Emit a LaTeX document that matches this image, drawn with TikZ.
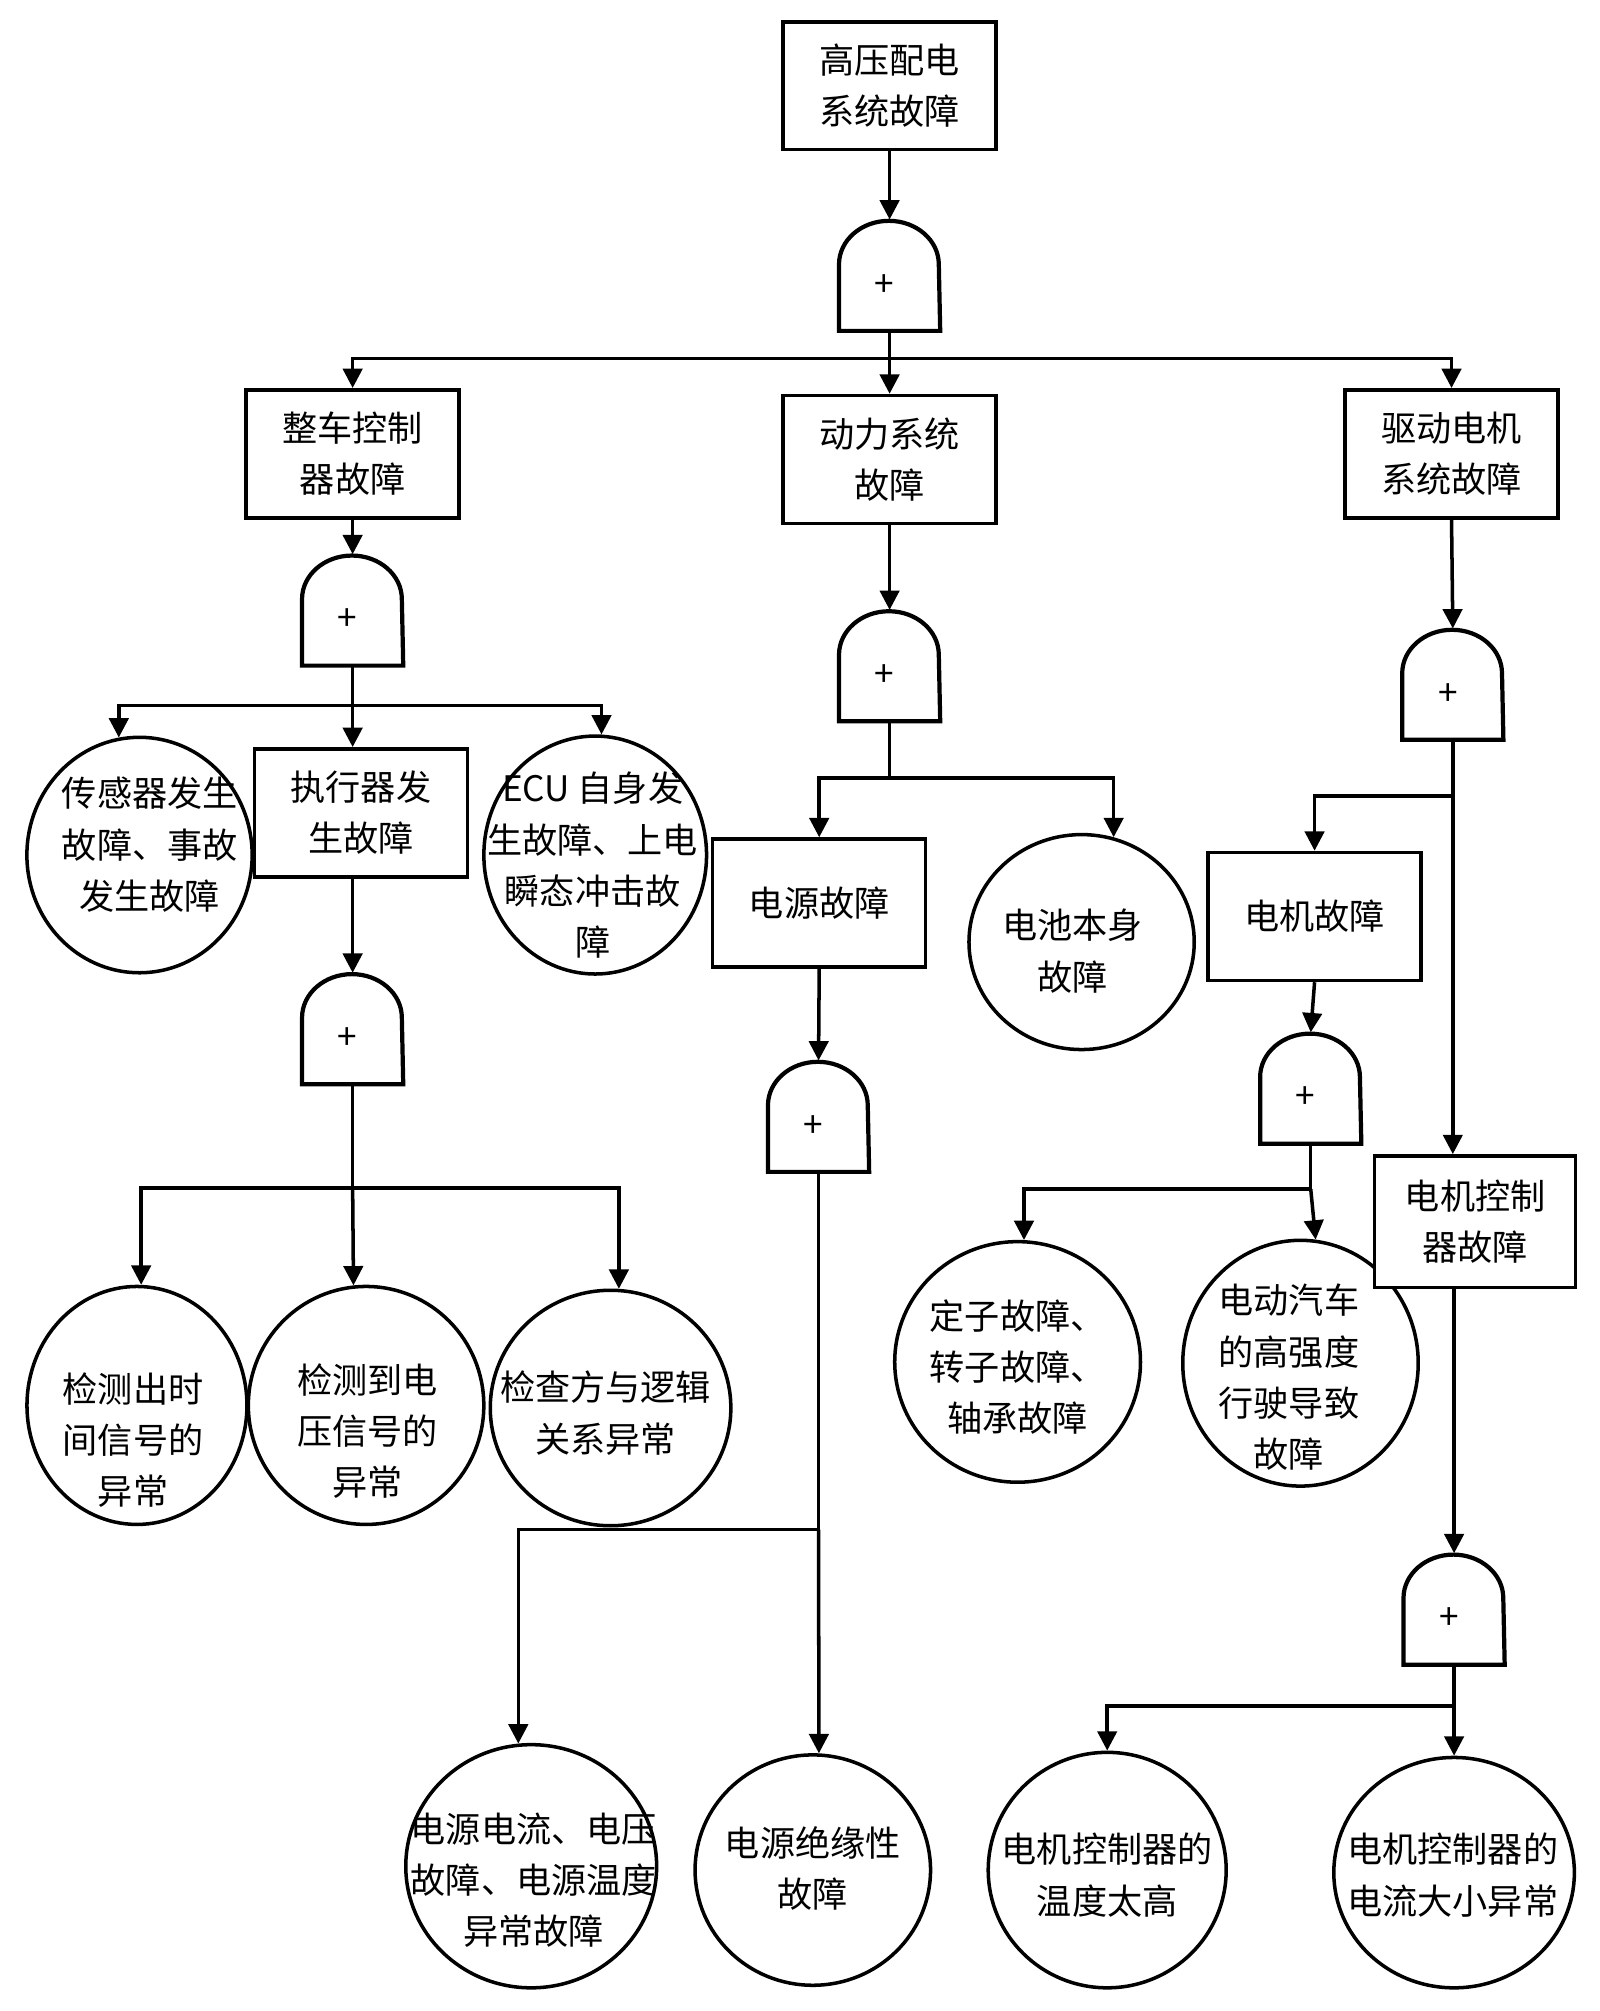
\documentclass[tikz,border=0pt]{standalone}
\usepackage{fontspec}
\setmainfont{Noto Sans CJK SC}
\usetikzlibrary{shapes.geometric,arrows.meta}

\newcommand{\orgate}[2]{%
\node[gatenode] (#1) at (#2) {};
\node[inner sep=0pt] (#1-p) at ([xshift=-0.05cm,yshift=-0.1cm]#1.center) {+};
\draw[gateline] (#1.south west) -- ++(0,-52) arc[start angle=180,end angle=0,x radius=0.499cm,y radius=0.435cm] -- (#1.south east) -- cycle;
}

\begin{document}
\begin{tikzpicture}[x=0.0128cm,y=-0.0128cm,
  font=\fontsize{10pt}{14.6pt}\selectfont,
  fault/.style={draw,line width=1pt,fill=white,minimum width=2.13cm,minimum height=1.28cm,inner sep=1pt,align=center},
  basic/.style={ellipse,draw,line width=1pt,fill=white,inner sep=0pt},
  txt/.style={align=center,inner sep=0pt},
  gatenode/.style={minimum width=0.998cm,minimum height=1.1cm,inner sep=0pt},
  gateline/.style={line width=1.2pt},
  link/.style={line width=1pt,-{Triangle[length=5.5pt,width=5.5pt]}},
  bar/.style={line width=1pt}]
\useasboundingbox (0,0) rectangle (1250,1571.1);

% top level
\node[fault] (top) at (695,67) {高压配电\\系统故障};
\orgate{g1}{695,215}
\node[fault] (vcu) at (275.5,354.5) {整车控制\\器故障};
\node[fault] (pwr) at (695,359) {动力系统\\故障};
\node[fault] (drv) at (1134,354.5) {驱动电机\\系统故障};
\coordinate (j1) at (695,280);
\draw[link] (top.south) -- (g1.north);
\draw[link] (g1.south) -- (pwr.north);
\draw[link] (j1) -| (vcu.north);
\draw[link] (j1) -| (drv.north);

% vehicle controller
\orgate{g2}{275.5,476.5}
\node[basic,minimum width=2.253cm,minimum height=2.355cm] (sen) at (109,668) {};
\node[txt] (sen-t) at (117,660) {传感器发生\\故障、事故\\发生故障};
\node[fault] (act) at (282,635) {执行器发\\生故障};
\node[basic,minimum width=2.227cm,minimum height=2.38cm] (ecu) at (465,668) {};
\node[txt] (ecu-t) at (463,676) {ECU 自身发\\生故障、上电\\瞬态冲击故\\障};
\coordinate (j2) at (275.5,551);
\draw[link] (vcu.south) -- (g2.north);
\draw[bar] (g2.south) -- (j2);
\draw[link] (j2) -| (sen.100);
\draw[link] (j2) -- (j2 |- act.north);
\draw[link] (j2) -| (ecu.87);

\orgate{g3}{275.5,803.5}
\node[basic,minimum width=2.2cm,minimum height=2.38cm] (tsig) at (107,1098) {};
\node[txt] (tsig-t) at (104,1125) {检测出时\\间信号的\\异常};
\node[basic,minimum width=2.355cm,minimum height=2.38cm] (vsig) at (286,1098) {};
\node[txt] (vsig-t) at (287,1118) {检测到电\\压信号的\\异常};
\node[basic,minimum width=2.406cm,minimum height=2.355cm] (logic) at (477,1100) {};
\node[txt] (logic-t) at (473,1104) {检查方与逻辑\\关系异常};
\coordinate (j3) at (275.5,928);
\draw[link] (g3.north |- act.south) -- (g3.north);
\draw[bar] (g3.south) -- (j3);
\draw[link] (j3) -| (tsig.88);
\draw[link] (j3) -- (vsig.96);
\draw[link] (j3) -| (logic.86);

% power system
\orgate{g4}{695,520}
\node[fault] (src) at (640,705.5) {电源故障};
\node[basic,minimum width=2.253cm,minimum height=2.15cm] (bat) at (845,736) {};
\node[txt] (bat-t) at (838,743) {电池本身\\故障};
\coordinate (j4) at (695,608);
\draw[link] (pwr.south) -- (g4.north);
\draw[bar] (g4.south) -- (j4);
\draw[link] (j4) -| (src.north);
\draw[link] (j4) -| (bat.73);

\orgate{g5}{639.5,872}
\node[basic,minimum width=2.509cm,minimum height=2.432cm] (cur) at (415,1458) {};
\node[txt] (cur-t) at (417,1469) {电源电流、电压\\故障、电源温度\\异常故障};
\node[basic,minimum width=2.355cm,minimum height=2.304cm] (ins) at (635,1461) {};
\node[txt] (ins-t) at (635,1460) {电源绝缘性\\故障};
\coordinate (j5) at (639.5,1195);
\draw[link] (src.south) -- (g5.north);
\draw[bar] (g5.south) -- (j5);
\draw[link] (j5) -- (ins.87);
\draw[link] (j5) -| (cur.96);

% drive motor
\orgate{g6}{1135,534.5}
\node[fault] (mot) at (1027,716) {电机故障};
\coordinate (j6) at (1135,622);
\draw[link] (drv.south) -- (g6.north);
\draw[bar] (g6.south) -- (j6);
\draw[link] (j6) -| (mot.north);

\orgate{g7}{1024,850}
\node[basic,minimum width=2.458cm,minimum height=2.406cm] (rot) at (795,1064) {};
\node[txt] (rot-t) at (795,1068) {定子故障、\\转子故障、\\轴承故障};
\node[basic,minimum width=2.355cm,minimum height=2.458cm] (load) at (1016,1065) {};
\node[txt] (load-t) at (1007,1076) {电动汽车\\的高强度\\行驶导致\\故障};
\node[fault,minimum width=2.01cm,minimum height=1.318cm] (mcu) at (1152.5,954.5) {电机控制\\器故障};
\coordinate (j7) at (1024,929);
\draw[link] (j6) -- (j6 |- mcu.north);
\draw[link] (mot.south) -- (g7.north);
\draw[bar] (g7.south) -- (j7);
\draw[link] (j7) -| (rot.87);
\draw[link] (j7) -- (load.83);

\orgate{g8}{1136,1257}
\node[basic,minimum width=2.38cm,minimum height=2.355cm] (temp) at (865,1461) {};
\node[txt] (temp-t) at (865,1465) {电机控制器的\\温度太高};
\node[basic,minimum width=2.406cm,minimum height=2.304cm] (amp) at (1136,1463) {};
\node[txt] (amp-t) at (1135,1465) {电机控制器的\\电流大小异常};
\coordinate (j8) at (1136,1333);
\draw[link] (g8.north |- mcu.south) -- (g8.north);
\draw[bar] (g8.south) -- (j8);
\draw[link] (j8) -| (temp.north);
\draw[link] (j8) -- (amp.north);

\end{tikzpicture}
\end{document}
